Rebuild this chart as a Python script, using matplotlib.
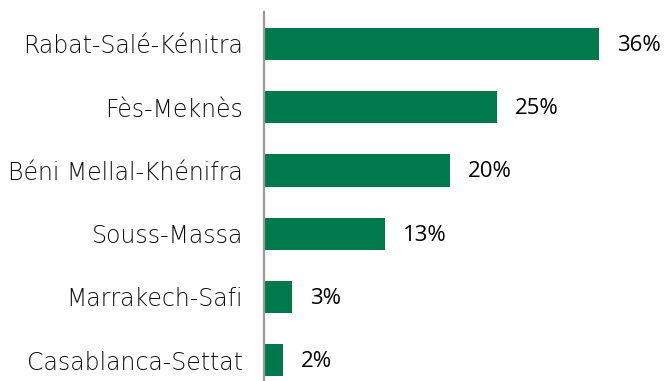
import matplotlib
matplotlib.use('agg')
import matplotlib.pyplot as plt

regions = ["Rabat-Salé-Kénitra", "Fès-Meknès", "Béni Mellal-Khénifra",
           "Souss-Massa", "Marrakech-Safi", "Casablanca-Settat"]
shares = [36, 25, 20, 13, 3, 2]

green = '#007A4D'

fig = plt.figure(figsize=(6.65, 3.81), dpi=100)
ax = fig.add_axes([264 / 665, 0, 1 - 264 / 665, 1 - 12 / 381])

ypos = list(range(len(regions)))
ax.barh(ypos, shares, height=0.51, color=green)

for y, v in zip(ypos, shares):
    ax.annotate(f"{v}%", xy=(v, y), xytext=(13, -1), textcoords='offset points',
                va='center', ha='left', fontsize=16, family='Open Sans',
                color='black')

ax.set_yticks(ypos)
ax.set_yticklabels(regions, family='DejaVu Sans', fontsize=17,
                   color='#0d0d0d', fontweight='light')
ax.tick_params(axis='y', length=0, pad=15)
ax.set_xticks([])
ax.set_xlim(0, 43.1)
ax.set_ylim(5.33, -0.506)

for side in ['top', 'right', 'bottom']:
    ax.spines[side].set_visible(False)
ax.spines['left'].set_color('#9a9a9a')
ax.spines['left'].set_linewidth(1.6)

fig.savefig('out.png', dpi=100)
